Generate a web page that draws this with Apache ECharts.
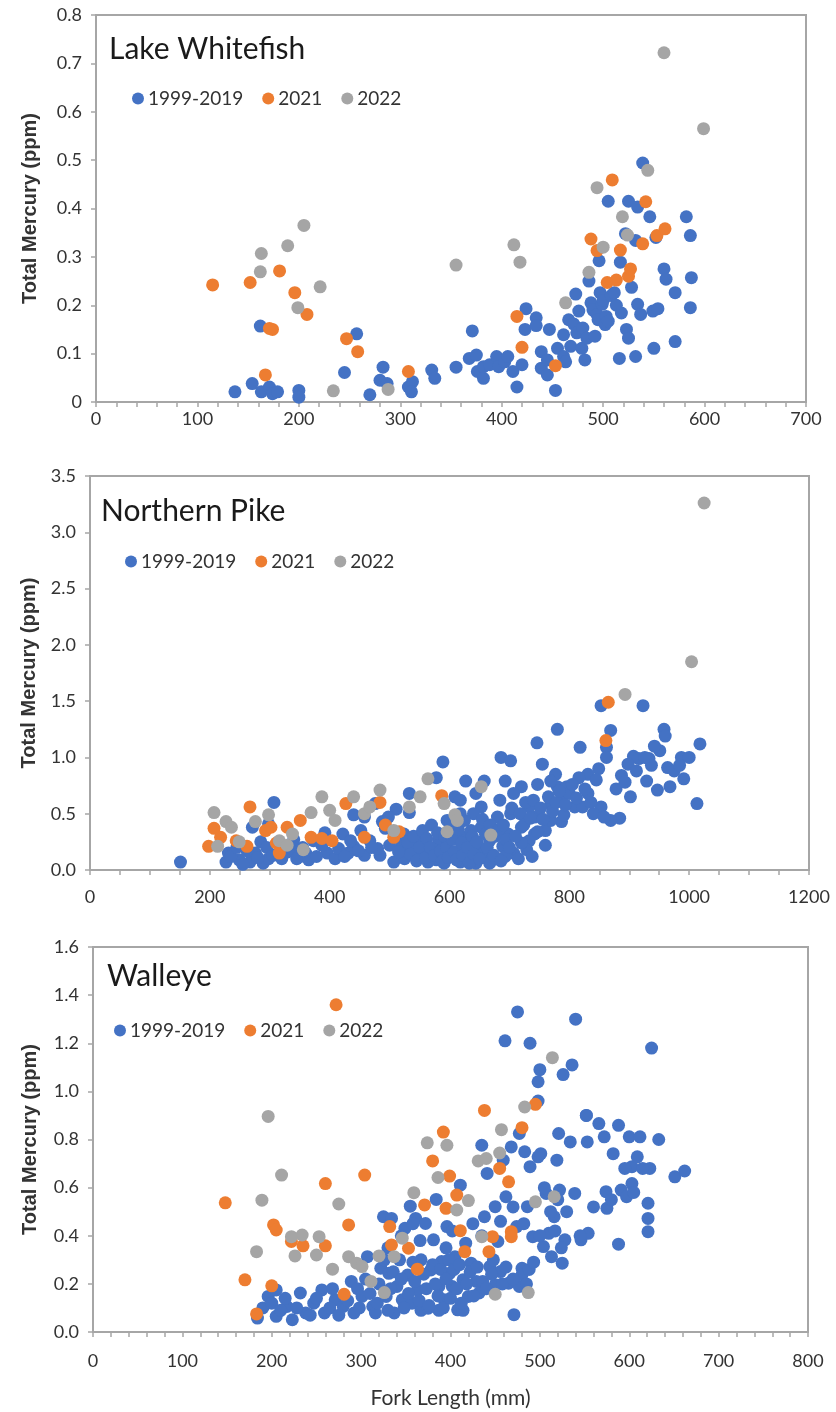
<!DOCTYPE html>
<html>
<head>
<meta charset="utf-8">
<script src="https://cdn.jsdelivr.net/npm/echarts/dist/echarts.min.js"></script>
<style>
  html, body { margin: 0; padding: 0; background: #ffffff; }
  #chart { width: 836px; height: 1412px; }
</style>
</head>
<body>
<div id="chart"></div>
<script>
// Fork length (mm) vs. total mercury (ppm), one scatter panel per species.
const seriesNames = ['1999-2019', '2021', '2022'];
const speciesNames = ['Lake Whitefish', 'Northern Pike', 'Walleye'];

// ---- Lake Whitefish ----
const whitefish1999_2019 = [
  [137,0.021],[154,0.038],[162,0.157],[163,0.021],[171,0.031],[174,0.017],[179,0.021],[200,0.024],[200,0.01],
  [245,0.061],[257,0.141],[270,0.015],[280,0.045],[283,0.072],[287,0.038],[308,0.031],[312,0.042],[311,0.021],
  [331,0.066],[334,0.049],[355,0.072],[368,0.09],[371,0.147],[375,0.097],[376,0.063],[382,0.073],[382,0.049],
  [388,0.077],[395,0.094],[397,0.073],[403,0.083],[406,0.094],[411,0.063],[415,0.031],[420,0.077],[423,0.15],
  [424,0.193],[434,0.174],[434,0.158],[439,0.104],[439,0.07],[445,0.087],[445,0.056],[447,0.15],[453,0.024],
  [455,0.111],[461,0.139],[461,0.094],[463,0.083],[466,0.17],[468,0.115],[471,0.161],[473,0.223],[474,0.143],
  [476,0.188],[479,0.111],[480,0.153],[482,0.087],[484,0.132],[486,0.25],[488,0.205],[490,0.19],[492,0.136],
  [494,0.181],[495,0.17],[496,0.292],[497,0.226],[499,0.202],[500,0.21],[502,0.16],[503,0.177],[505,0.167],
  [505,0.415],[508,0.22],[511,0.226],[513,0.2],[516,0.09],[517,0.289],[518,0.184],[522,0.348],[523,0.15],
  [525,0.132],[525,0.415],[528,0.237],[532,0.334],[532,0.094],[534,0.403],[534,0.202],[537,0.181],[539,0.494],
  [546,0.383],[549,0.188],[550,0.111],[552,0.34],[554,0.193],[560,0.275],[562,0.254],[571,0.125],[571,0.226],
  [582,0.383],[586,0.344],[587,0.257],[586,0.195]
];
const whitefish2021 = [
  [115,0.242],[152,0.247],[181,0.271],[174,0.15],[171,0.152],[196,0.226],[208,0.181],[167,0.056],[247,0.131],
  [258,0.104],[308,0.063],[415,0.177],[420,0.113],[453,0.075],[488,0.337],[494,0.313],[504,0.247],[513,0.252],
  [509,0.459],[517,0.314],[525,0.26],[527,0.275],[539,0.327],[542,0.414],[553,0.344],[561,0.358]
];
const whitefish2022 = [
  [163,0.307],[162,0.269],[189,0.323],[205,0.365],[221,0.238],[199,0.195],[234,0.023],[288,0.026],[355,0.283],
  [412,0.325],[418,0.289],[463,0.205],[486,0.268],[500,0.32],[519,0.383],[524,0.345],[560,0.722],[599,0.565],
  [544,0.479],[494,0.443]
];

// ---- Northern Pike ----
const pike1999_2019 = [
  [853,1.46],[923,1.46],[780,1.25],[869,1.24],[958,1.25],[960,1.19],[1018,1.12],[746,1.13],[818,1.09],[862,1.09],
  [686,1.0],[702,0.97],[589,0.96],[862,1.0],[907,1.01],[933,0.99],[951,1.06],[987,1.0],[1013,0.59],[991,0.81],
  [968,0.74],[964,0.91],[937,0.93],[916,0.99],[755,0.94],[777,0.85],[780,0.74],[849,0.9],[887,0.84],[902,0.65],
  [884,0.46],[869,0.44],[853,0.56],[831,0.85],[816,0.82],[796,0.74],[831,0.68],[809,0.56],[787,0.43],[760,0.35],
  [760,0.22],[742,0.47],[733,0.26],[720,0.74],[693,0.79],[684,0.62],[653,0.56],[627,0.79],[609,0.65],[618,0.5],
  [578,0.82],[533,0.68],[533,0.51],[511,0.54],[498,0.47],[476,0.59],[458,0.47],[440,0.49],[307,0.6],[298,0.41],
  [271,0.38],[231,0.15],[267,0.07],[289,0.06],[151,0.07],[351,0.12],[373,0.26],[396,0.15],[422,0.32],[440,0.21],
  [467,0.26],[484,0.13],[507,0.07],[511,0.29],[538,0.18],[556,0.26],[564,0.15],[578,0.09],[591,0.24],[600,0.35],
  [604,0.12],[618,0.18],[627,0.29],[636,0.1],[644,0.21],[653,0.38],[658,0.15],[667,0.26],[671,0.09],[680,0.47],
  [689,0.21],[698,0.32],[707,0.15],[720,0.38],[729,0.18],[742,0.32],[769,0.59],[791,0.49],[822,0.56],[840,0.5],
  [858,0.47],[929,0.79],[947,0.71],[520,0.21],[547,0.12],[582,0.26],[609,0.29],[636,0.35],[627,0.15],[573,0.18],
  [596,0.44],[618,0.62],[644,0.68],[658,0.79],[640,0.5],[702,0.5],[707,0.68],[733,0.56],[747,0.76],[769,0.79],
  [787,0.62],[800,0.68],[769,0.44],[747,0.34],[720,0.24],[693,0.12],[667,0.06],[644,0.06],[618,0.07],[591,0.06],
  [564,0.07],[547,0.26],[524,0.32],[493,0.37],[480,0.19],[458,0.13],[431,0.15],[409,0.1],[387,0.22],[360,0.15],
  [338,0.18],[316,0.24],[298,0.1],[276,0.15],[249,0.09],[227,0.07],
  [525,0.1],[530,0.25],[535,0.14],[540,0.3],[545,0.08],[550,0.2],[555,0.35],[560,0.11],[562,0.28],[568,0.2],
  [570,0.4],[575,0.13],[580,0.33],[585,0.17],[588,0.08],[592,0.3],[595,0.2],[598,0.11],[602,0.42],[605,0.27],
  [608,0.16],[612,0.09],[615,0.36],[620,0.24],[622,0.13],[625,0.44],[630,0.2],[633,0.06],[638,0.3],[641,0.14],
  [646,0.25],[650,0.1],[655,0.45],[660,0.32],[663,0.2],[668,0.4],[674,0.13],[677,0.3],[682,0.36],[686,0.08],
  [690,0.4],[695,0.27],[700,0.2],[704,0.55],[710,0.3],[715,0.1],[718,0.5],[724,0.4],[727,0.6],[735,0.46],
  [740,0.62],[738,0.12],[752,0.55],[756,0.45],[765,0.65],[772,0.52],[778,0.6],[783,0.7],[793,0.58],[805,0.76],
  [812,0.64],[826,0.72],[836,0.6],[845,0.8],[878,0.72],[893,0.78],[898,0.94],[912,0.88],[926,1.0],[942,1.1],
  [975,0.88],[984,0.93],[1000,1.0],
  [235,0.12],[245,0.2],[255,0.05],[262,0.17],[280,0.11],[285,0.25],[295,0.2],[305,0.13],[320,0.1],[330,0.16],
  [340,0.27],[345,0.1],[355,0.2],[365,0.09],[378,0.12],[392,0.33],[415,0.19],[425,0.12],[435,0.26],[448,0.17],
  [452,0.35],[470,0.2],[488,0.43],[500,0.22],[515,0.16]
];
const pike2021 = [
  [207,0.37],[198,0.21],[218,0.29],[244,0.26],[267,0.56],[262,0.21],[293,0.35],[302,0.38],[311,0.24],[316,0.15],
  [329,0.38],[351,0.44],[369,0.29],[387,0.28],[404,0.26],[427,0.59],[458,0.29],[484,0.6],[493,0.4],[507,0.29],
  [516,0.34],[587,0.66],[865,1.49],[861,1.15]
];
const pike2022 = [
  [207,0.51],[213,0.21],[227,0.43],[236,0.38],[249,0.25],[276,0.43],[298,0.49],[316,0.26],[329,0.22],[338,0.32],
  [356,0.18],[369,0.51],[387,0.65],[400,0.53],[409,0.44],[440,0.65],[458,0.5],[467,0.56],[484,0.71],[507,0.35],
  [533,0.56],[551,0.65],[564,0.81],[591,0.59],[596,0.34],[609,0.49],[613,0.44],[653,0.74],[669,0.31],
  [893,1.56],[1004,1.85],[1025,3.26]
];

// ---- Walleye ----
const walleye1999_2019 = [
  [184,0.058],[196,0.148],[205,0.175],[205,0.065],[217,0.106],[223,0.051],[232,0.162],[238,0.079],[247,0.12],
  [256,0.175],[259,0.079],[271,0.134],[280,0.106],[289,0.21],[292,0.079],[301,0.148],[307,0.313],[313,0.106],
  [316,0.079],[322,0.265],[325,0.479],[328,0.148],[331,0.244],[334,0.472],[337,0.079],[340,0.189],[343,0.3],
  [346,0.134],[349,0.431],[352,0.237],[355,0.523],[357,0.12],[361,0.472],[363,0.175],[367,0.3],[367,0.09],
  [372,0.451],[375,0.099],[378,0.258],[381,0.383],[384,0.551],[387,0.189],[387,0.09],[390,0.293],[393,0.134],
  [396,0.438],[399,0.244],[402,0.189],[405,0.313],[408,0.092],[411,0.61],[414,0.217],[414,0.09],[417,0.369],
  [420,0.148],[423,0.286],[429,0.21],[432,0.162],[435,0.776],[438,0.479],[441,0.659],[444,0.272],[450,0.521],
  [450,0.196],[453,0.376],[456,0.251],[459,0.714],[462,0.562],[465,0.203],[468,0.769],[471,0.072],[474,0.438],
  [477,0.825],[477,0.189],[480,0.265],[480,0.238],[483,0.749],[486,0.521],[489,0.687],[492,0.396],[498,0.728],
  [501,0.741],[504,0.355],[507,0.576],[510,0.41],[513,0.313],[516,0.479],[519,0.714],[521,0.825],[522,0.59],
  [525,0.286],[528,0.383],[534,0.79],[539,0.576],[546,0.383],[552,0.9],[553,0.79],[554,0.41],[566,0.866],
  [572,0.811],[574,0.583],[575,0.514],[582,0.741],[588,0.365],[588,0.859],[591,0.59],[597,0.562],[600,0.811],
  [603,0.617],[603,0.687],[609,0.728],[612,0.811],[621,0.535],[621,0.472],[621,0.417],[623,0.68],[633,0.8],
  [651,0.645],[662,0.669],
  [475,1.33],[540,1.30],[461,1.21],[489,1.20],[625,1.18],[536,1.11],[500,1.09],[526,1.07],[498,1.04],[498,0.96],
  [552,0.90],
  [190,0.1],[200,0.12],[210,0.09],[215,0.14],[228,0.1],[243,0.07],[250,0.14],[265,0.1],[268,0.18],[275,0.07],
  [285,0.13],[296,0.18],[298,0.1],[305,0.22],[310,0.16],[318,0.12],[320,0.2],[326,0.3],[330,0.09],[333,0.18],
  [336,0.25],[345,0.22],[348,0.1],[353,0.16],[358,0.29],[360,0.21],[365,0.13],[370,0.24],[373,0.18],[376,0.11],
  [380,0.28],[383,0.2],[386,0.15],[389,0.26],[392,0.1],[395,0.22],[398,0.3],[400,0.14],[404,0.26],[407,0.18],
  [410,0.28],[412,0.12],[418,0.2],[422,0.25],[426,0.15],[430,0.27],[436,0.21],[440,0.18],[446,0.24],[448,0.3],
  [458,0.2],[462,0.27],[470,0.22],[485,0.2],[488,0.26],[493,0.29],
  [330,0.35],[345,0.4],[358,0.45],[366,0.38],[395,0.35],[402,0.42],[425,0.45],[435,0.4],[456,0.46],[470,0.52],
  [482,0.45],[500,0.4],[505,0.6],[512,0.5],[517,0.42],[520,0.55],[524,0.35],[530,0.5],[545,0.4],[560,0.52],
  [580,0.55],[595,0.68],[605,0.58],[615,0.68]
];
const walleye2021 = [
  [148,0.537],[170,0.217],[183,0.075],[200,0.192],[202,0.445],[205,0.424],[222,0.376],[235,0.358],[260,0.617],
  [260,0.358],[281,0.157],[286,0.445],[304,0.652],[334,0.362],[332,0.438],[353,0.348],[363,0.261],[371,0.528],
  [380,0.711],[392,0.831],[395,0.514],[399,0.648],[407,0.569],[411,0.421],[416,0.334],[438,0.921],[443,0.334],
  [447,0.396],[455,0.68],[465,0.624],[468,0.417],[468,0.396],[480,0.849],[495,0.946],[272,1.36]
];
const walleye2022 = [
  [196,0.896],[189,0.548],[211,0.652],[183,0.334],[222,0.396],[234,0.403],[226,0.316],[253,0.396],[250,0.32],
  [275,0.532],[268,0.261],[286,0.313],[295,0.286],[301,0.272],[311,0.21],[326,0.164],[320,0.316],[337,0.313],
  [346,0.39],[359,0.579],[374,0.786],[396,0.776],[386,0.642],[407,0.507],[420,0.546],[431,0.711],[440,0.721],
  [455,0.744],[457,0.841],[435,0.396],[450,0.157],[487,0.164],[495,0.541],[516,0.562],[483,0.935],[514,1.14]
];

// Axis ranges and tick spacing per panel
const xMax = [700, 1200, 800];
const xStep = [100, 200, 100];
const xMinorSplit = [5, 4, 5];
const yMax = [0.8, 3.5, 1.6];
const yStep = [0.1, 0.5, 0.2];

const panelData = [
  [whitefish1999_2019, whitefish2021, whitefish2022],
  [pike1999_2019, pike2021, pike2022],
  [walleye1999_2019, walleye2021, walleye2022]
];

// Layout of the three plot areas (pixels)
const grids = [
  { left: 96, top: 15, width: 710, height: 387 },
  { left: 90, top: 476, width: 719, height: 394 },
  { left: 93, top: 947, width: 715, height: 385 }
];
const xLabelMargin = [8, 18, 20];
const yNameGap = [56, 50, 53];
const titlePos = [{ left: 109, top: 34 }, { left: 101, top: 496 }, { left: 107, top: 961 }];
const legendPos = [{ left: 132, top: 89 }, { left: 125, top: 552 }, { left: 114, top: 1021 }];
const colors = ['#4472C4', '#ED7D31', '#A5A5A5'];
const frame = '#a6a6a6';
const font = 'Lato, "Open Sans", sans-serif';

const chart = echarts.init(document.getElementById('chart'), null, { renderer: 'canvas' });

const option = {
  backgroundColor: '#ffffff',
  animation: false,
  title: speciesNames.map((t, i) => ({
    text: t, left: titlePos[i].left, top: titlePos[i].top, padding: 0,
    textStyle: { fontFamily: font, fontSize: 30, fontWeight: 'normal', color: '#1a1a1a' }
  })),
  legend: legendPos.map(p => ({
    data: seriesNames, left: p.left, top: p.top, padding: 0,
    icon: 'circle', itemWidth: 12, itemHeight: 12, itemGap: 19, selectedMode: false,
    textStyle: { fontFamily: font, fontSize: 19, color: '#333333', padding: [0, 0, 0, -1] }
  })),
  grid: grids.map(g => Object.assign({
    show: true, borderColor: frame, borderWidth: 2, backgroundColor: '#ffffff', containLabel: false
  }, g)),
  xAxis: grids.map((g, i) => ({
    type: 'value', gridIndex: i, min: 0, max: xMax[i], interval: xStep[i],
    name: i === 2 ? 'Fork Length (mm)' : '',
    nameLocation: 'middle', nameGap: 56,
    nameTextStyle: { fontFamily: font, fontSize: 21, color: '#333333' },
    axisLine: { show: true, lineStyle: { color: frame, width: 2 } },
    axisTick: { show: true, inside: false, length: 5, lineStyle: { color: frame, width: 1.5 } },
    minorTick: { show: true, splitNumber: xMinorSplit[i], length: 5, lineStyle: { color: frame, width: 1.5 } },
    splitLine: { show: false },
    axisLabel: {
      fontFamily: font, fontSize: 18, color: '#333333', margin: xLabelMargin[i],
      formatter: v => String(v)
    }
  })),
  yAxis: grids.map((g, i) => ({
    type: 'value', gridIndex: i, min: 0, max: yMax[i], interval: yStep[i],
    name: 'Total Mercury (ppm)', nameLocation: 'middle', nameGap: yNameGap[i],
    nameTextStyle: { fontFamily: '"Liberation Sans", Arial, sans-serif', fontSize: 20, fontWeight: 'bold', color: '#333333' },
    axisLine: { show: true, lineStyle: { color: frame, width: 2 } },
    axisTick: { show: true, inside: false, length: 5, lineStyle: { color: frame, width: 1.5 } },
    splitLine: { show: false },
    axisLabel: {
      fontFamily: font, fontSize: 18, color: '#333333', margin: 14,
      formatter: v => (i === 0 && v === 0) ? '0' : v.toFixed(1)
    }
  })),
  series: []
};

panelData.forEach((sets, p) => {
  sets.forEach((pts, s) => {
    option.series.push({
      type: 'scatter', name: seriesNames[s], xAxisIndex: p, yAxisIndex: p,
      data: pts, symbol: 'circle', symbolSize: 13,
      itemStyle: { color: colors[s], opacity: 1 },
      z: 2 + s
    });
  });
});

chart.setOption(option);
</script>
</body>
</html>
